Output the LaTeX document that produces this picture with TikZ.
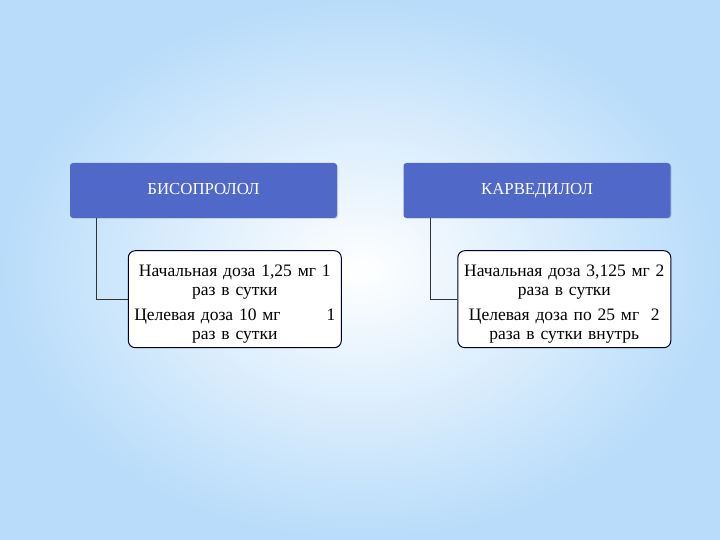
\documentclass[tikz,border=0pt]{standalone}
\usepackage{fontspec}
\setmainfont{Liberation Serif}
\usetikzlibrary{positioning,shapes,shadows}

\definecolor{headblue}{RGB}{80,104,200}
\definecolor{skyblue}{RGB}{184,220,250}

\begin{document}
\begin{tikzpicture}[x=1pt, y=1pt,
	head/.style={rectangle, fill=headblue, rounded corners=3pt, minimum width=267pt, minimum height=55pt, text height=11pt, text depth=3pt, text=white, font=\fontsize{16.8}{19}\selectfont, drop shadow={opacity=0.25, shadow xshift=1pt, shadow yshift=-1pt}},
	dosebox/.style={rectangle, draw=black!85!blue, fill=white, line width=1pt, rounded corners=7pt, text width=201pt, minimum width=213pt, minimum height=97pt, align=center, inner sep=3pt, font=\fontsize{17.5}{19}\selectfont},
	link/.style={draw=black!80, line width=0.8pt}]
	% background
	\shade[inner color=white, outer color=skyblue] (0,0) rectangle (720,-540);
	\useasboundingbox (0,0) rectangle (720,-540);

	\node (biso) [head] at (203.5,-190.5) {БИСОПРОЛОЛ};
	\node (carv) [head] at (537,-190.5) {КАРВЕДИЛОЛ};

	\node (bisodose) [dosebox, below=32pt of biso.south west, anchor=north west, xshift=58pt]
	{
		\rule{0pt}{22pt}Начальная доза 1,25 мг 1\\
		раз в сутки\par\vspace{6pt}
		Целевая доза 10 мг\hfill 1\\
		раз в сутки
	};
	\node (carvdose) [dosebox, below=32pt of carv.south west, anchor=north west, xshift=54pt]
	{
		\rule{0pt}{22pt}Начальная доза 3,125 мг 2\\
		раза в сутки\par\vspace{6pt}
		Целевая доза по 25 мг\ \ 2\\
		раза в сутки внутрь
	};

	\draw [link] ([xshift=27pt]biso.south west) |- (bisodose.west);
	\draw [link] ([xshift=27pt]carv.south west) |- (carvdose.west);
\end{tikzpicture}
\end{document}
